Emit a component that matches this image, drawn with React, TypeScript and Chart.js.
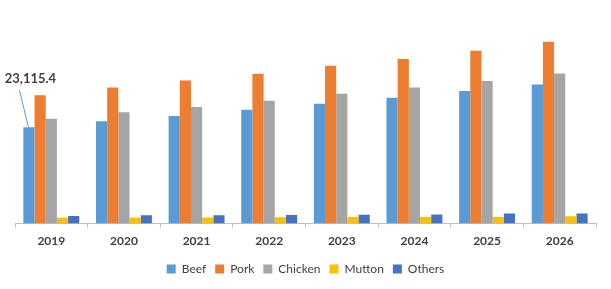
import React, { useEffect, useRef } from "react";
import { Chart, registerables } from "chart.js";

Chart.register(...registerables);

const years = ["2019", "2020", "2021", "2022", "2023", "2024", "2025", "2026"];
const beef = [23115.4, 24540, 25790, 27290, 28740, 30190, 31780, 33330];
const pork = [30740, 32600, 34290, 35890, 37820, 39440, 41440, 43610];
const chicken = [25120, 26710, 27920, 29460, 31150, 32600, 34200, 35980];
const mutton = [1400, 1450, 1450, 1550, 1570, 1600, 1600, 1760];
const others = [1810, 1980, 2000, 2050, 2150, 2200, 2420, 2420];
const annotationText = "23,115.4";

const FONT = "Lato, 'Open Sans', 'DejaVu Sans', sans-serif";

const calloutPlugin = {
  id: "callout",
  afterDatasetsDraw(chart: any) {
    const meta = chart.getDatasetMeta(0);
    const el = meta.data[0];
    if (!el) return;
    const ctx = chart.ctx;
    ctx.save();
    ctx.strokeStyle = "#5B9BD5";
    ctx.lineWidth = 1;
    ctx.beginPath();
    ctx.moveTo(el.x - 9.5, el.y - 37);
    ctx.lineTo(el.x - 0.5, el.y);
    ctx.stroke();
    ctx.fillStyle = "#404040";
    ctx.font = "bold 13px " + FONT;
    ctx.textAlign = "center";
    ctx.textBaseline = "middle";
    ctx.fillText(annotationText, el.x + 1.5, el.y - 48);
    ctx.restore();
  },
};

export default function App() {
  const ref = useRef<HTMLCanvasElement>(null);
  useEffect(() => {
    if (!ref.current) return;
    const mk = (label: string, data: number[], color: string) => ({
      label,
      data,
      backgroundColor: color,
      borderWidth: 0,
      categoryPercentage: 0.77,
      barPercentage: 1.0,
    });
    const chart = new Chart(ref.current, {
      type: "bar",
      data: {
        labels: years,
        datasets: [
          mk("Beef", beef, "#5B9BD5"),
          mk("Pork", pork, "#ED7D31"),
          mk("Chicken", chicken, "#A5A5A5"),
          mk("Mutton", mutton, "#FFC000"),
          mk("Others", others, "#4472C4"),
        ],
      },
      options: {
        animation: false,
        responsive: false,
        maintainAspectRatio: false,
        layout: { padding: { left: 15, right: 15, top: 15, bottom: 4 } },
        plugins: {
          tooltip: { enabled: false },
          legend: {
            position: "bottom",
            labels: {
              boxWidth: 9,
              boxHeight: 9,
              padding: 9,
              color: "#404040",
              font: { family: FONT, size: 12 },
            },
          },
        },
        scales: {
          x: {
            grid: {
              display: true,
              drawOnChartArea: false,
              drawTicks: true,
              tickLength: 4,
              color: "#BFBFBF",
            },
            border: { display: true, color: "#BFBFBF" },
            ticks: {
              color: "#404040",
              font: { family: FONT, size: 12, weight: "bold" },
              padding: 6,
            },
          },
          y: {
            display: false,
            min: 0,
            max: 50000,
          },
        },
      },
      plugins: [calloutPlugin],
    });
    return () => chart.destroy();
  }, []);
  return (
    <div style={{ position: "fixed", left: 0, top: 0, width: 611, height: 289, background: "#fff" }}>
      <canvas ref={ref} width={611} height={289} style={{ width: 611, height: 289 }} />
    </div>
  );
}
